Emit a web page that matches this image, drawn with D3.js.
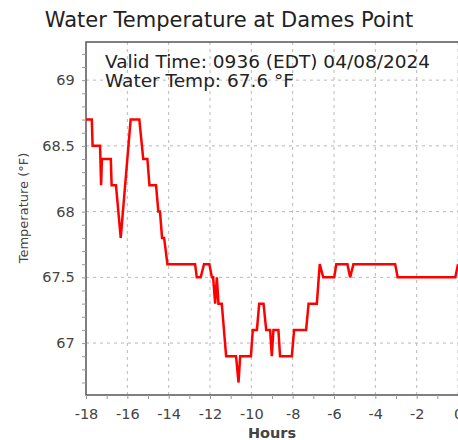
<!DOCTYPE html>
<html>
<head>
<meta charset="utf-8">
<script src="https://cdn.jsdelivr.net/npm/d3@7"></script>
<style>
  body { margin: 0; background: #fff; }
  text { font-family: "DejaVu Sans", sans-serif; }
</style>
</head>
<body>
<div id="chart"></div>
<script>
// vertices of the trace (hours before now, deg F)
var hours = [-18.0, -17.72, -17.68, -17.32, -17.27, -17.23, -16.8, -16.76, -16.55, -16.32,
  -15.84, -15.42, -15.23, -15.03, -14.93, -14.61, -14.5, -14.42, -14.32, -14.22, -14.06,
  -12.72, -12.64, -12.45, -12.29, -12.03, -11.91, -11.85, -11.75, -11.67, -11.59, -11.43,
  -11.22, -10.74, -10.62, -10.54, -10.02, -9.93, -9.73, -9.62, -9.41, -9.28, -9.09, -9.01,
  -8.93, -8.69, -8.61, -8.04, -7.93, -7.35, -7.23, -6.83, -6.69, -6.52, -5.99, -5.89,
  -5.35, -5.22, -5.06, -3.04, -2.92, -0.13, 0.0];
var temps = [68.7, 68.7, 68.5, 68.5, 68.2, 68.4, 68.4, 68.2, 68.2, 67.8,
  68.7, 68.7, 68.4, 68.4, 68.2, 68.2, 68.0, 68.0, 67.8, 67.8, 67.6,
  67.6, 67.5, 67.5, 67.6, 67.6, 67.5, 67.5, 67.3, 67.5, 67.3, 67.3,
  66.9, 66.9, 66.7, 66.9, 66.9, 67.1, 67.1, 67.3, 67.3, 67.1, 67.1, 66.9,
  67.1, 67.1, 66.9, 66.9, 67.1, 67.1, 67.3, 67.3, 67.6, 67.5, 67.5, 67.6,
  67.6, 67.5, 67.6, 67.6, 67.5, 67.5, 67.6];
var xTicks = [-18, -16, -14, -12, -10, -8, -6, -4, -2, 0];
var yTicks = [67, 67.5, 68, 68.5, 69];
var xMinor = d3.range(-18, 1, 1);
var yMinor = d3.range(66.7, 69.25, 0.1);

var svgWidth = 458;
var svgHeight = 440;
var margin = { top: 42, right: 0, bottom: 45, left: 86 };
var width = svgWidth - margin.left - margin.right;
var height = svgHeight - margin.top - margin.bottom;

var svg = d3.select("#chart")
  .append("svg")
  .attr("width", svgWidth)
  .attr("height", svgHeight);

svg.append("text")
  .attr("x", 229)
  .attr("y", 27)
  .attr("text-anchor", "middle")
  .attr("font-size", "21px")
  .attr("fill", "#222")
  .text("Water Temperature at Dames Point");

var chartGroup = svg.append("g")
  .attr("transform", `translate(${margin.left}, ${margin.top})`);

var xScale = d3.scaleLinear().domain([-18, 0]).range([0, width]);
var yScale = d3.scaleLinear().domain([66.605, 69.29]).range([height, 0]);

// dashed grid
chartGroup.selectAll(".xgrid")
  .data(xTicks.slice(1))
  .enter()
  .append("line")
  .attr("x1", d => xScale(d))
  .attr("x2", d => xScale(d))
  .attr("y1", 0)
  .attr("y2", height)
  .attr("stroke", "#b8b8b8")
  .attr("stroke-dasharray", "3,4");

chartGroup.selectAll(".ygrid")
  .data(yTicks)
  .enter()
  .append("line")
  .attr("x1", 0)
  .attr("x2", width)
  .attr("y1", d => yScale(d))
  .attr("y2", d => yScale(d))
  .attr("stroke", "#b8b8b8")
  .attr("stroke-dasharray", "3,4");

// frame
chartGroup.append("rect")
  .attr("x", 0)
  .attr("y", 0)
  .attr("width", width + 2)
  .attr("height", height)
  .attr("fill", "none")
  .attr("stroke", "#555")
  .attr("stroke-width", 1.5);

// axes
var bottomAxis = d3.axisBottom(xScale)
  .tickValues(xMinor)
  .tickSize(4)
  .tickFormat(d => xTicks.indexOf(d) >= 0 ? d : "");
var leftAxis = d3.axisLeft(yScale)
  .tickValues(yMinor)
  .tickSize(4)
  .tickFormat(d => {
    var r = Math.round(d * 10) / 10;
    return yTicks.indexOf(r) >= 0 ? r : "";
  });

var xAxis = chartGroup.append("g")
  .attr("transform", `translate(0, ${height})`)
  .call(bottomAxis);
var yAxis = chartGroup.append("g")
  .call(leftAxis);

[xAxis, yAxis].forEach(function(ax) {
  ax.select(".domain").remove();
  ax.selectAll(".tick line").attr("stroke", "#999");
  ax.selectAll("text")
    .attr("font-family", "DejaVu Sans")
    .attr("font-size", "14.5px")
    .attr("fill", "#444");
});
xAxis.selectAll("text").attr("dy", "1.2em");
yAxis.selectAll("text").attr("dx", "-0.3em");

// axis titles
chartGroup.append("text")
  .attr("x", width / 2)
  .attr("y", height + 43)
  .attr("text-anchor", "middle")
  .attr("font-size", "14.5px")
  .attr("font-weight", "bold")
  .attr("fill", "#444")
  .text("Hours");

chartGroup.append("text")
  .attr("transform", "rotate(-90)")
  .attr("x", -166)
  .attr("y", -58)
  .attr("text-anchor", "middle")
  .attr("font-size", "13px")
  .attr("fill", "#444")
  .text("Temperature (°F)");

// trace
var data = hours.map((h, i) => ({ h: h, t: temps[i] }));
var line = d3.line()
  .x(d => xScale(d.h))
  .y(d => yScale(d.t));

chartGroup.append("path")
  .datum(data)
  .attr("d", line)
  .attr("fill", "none")
  .attr("stroke", "#ff0000")
  .attr("stroke-width", 2.5)
  .attr("stroke-linejoin", "miter");

// readout
chartGroup.append("text")
  .attr("x", 19)
  .attr("y", 26)
  .attr("font-size", "18.5px")
  .attr("fill", "#222")
  .text("Valid Time: 0936 (EDT) 04/08/2024");
chartGroup.append("text")
  .attr("x", 19)
  .attr("y", 45)
  .attr("font-size", "18.5px")
  .attr("fill", "#222")
  .text("Water Temp: 67.6 °F");
</script>
</body>
</html>
